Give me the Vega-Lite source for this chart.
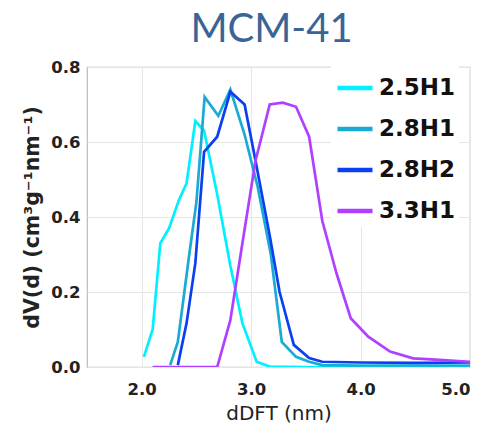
{
  "$schema": "https://vega.github.io/schema/vega-lite/v6.json",
  "autosize": "none",
  "width": 383,
  "height": 300,
  "padding": {"left": 87, "top": 67, "right": 19, "bottom": 71},
  "background": "white",
  "title": {"text": "MCM-41", "font": "Lato", "fontSize": 40, "fontWeight": "normal", "color": "#3b6496", "anchor": "middle", "offset": 9, "dx": -7},
  "data": {"values": [
    {"s": "2.5H1", "d": 2.02, "v": 0.027},
    {"s": "2.5H1", "d": 2.10, "v": 0.10},
    {"s": "2.5H1", "d": 2.17, "v": 0.33},
    {"s": "2.5H1", "d": 2.25, "v": 0.37},
    {"s": "2.5H1", "d": 2.34, "v": 0.445},
    {"s": "2.5H1", "d": 2.41, "v": 0.49},
    {"s": "2.5H1", "d": 2.49, "v": 0.656},
    {"s": "2.5H1", "d": 2.57, "v": 0.63},
    {"s": "2.5H1", "d": 2.69, "v": 0.46},
    {"s": "2.5H1", "d": 2.81, "v": 0.27},
    {"s": "2.5H1", "d": 2.92, "v": 0.117},
    {"s": "2.5H1", "d": 3.05, "v": 0.014},
    {"s": "2.5H1", "d": 3.17, "v": 0.001},
    {"s": "2.5H1", "d": 3.5, "v": 0.0},
    {"s": "2.5H1", "d": 4.0, "v": 0.0},
    {"s": "2.5H1", "d": 4.5, "v": 0.0},
    {"s": "2.5H1", "d": 5.0, "v": 0.0},
    {"s": "2.8H1", "d": 2.26, "v": 0.005},
    {"s": "2.8H1", "d": 2.33, "v": 0.067},
    {"s": "2.8H1", "d": 2.43, "v": 0.29},
    {"s": "2.8H1", "d": 2.50, "v": 0.44},
    {"s": "2.8H1", "d": 2.575, "v": 0.72},
    {"s": "2.8H1", "d": 2.70, "v": 0.67},
    {"s": "2.8H1", "d": 2.81, "v": 0.74},
    {"s": "2.8H1", "d": 2.94, "v": 0.62},
    {"s": "2.8H1", "d": 3.06, "v": 0.48},
    {"s": "2.8H1", "d": 3.18, "v": 0.30},
    {"s": "2.8H1", "d": 3.28, "v": 0.067},
    {"s": "2.8H1", "d": 3.41, "v": 0.027},
    {"s": "2.8H1", "d": 3.53, "v": 0.014},
    {"s": "2.8H1", "d": 3.65, "v": 0.005},
    {"s": "2.8H1", "d": 4.0, "v": 0.004},
    {"s": "2.8H1", "d": 4.5, "v": 0.004},
    {"s": "2.8H1", "d": 5.0, "v": 0.004},
    {"s": "2.8H2", "d": 2.33, "v": 0.005},
    {"s": "2.8H2", "d": 2.41, "v": 0.117},
    {"s": "2.8H2", "d": 2.49, "v": 0.277},
    {"s": "2.8H2", "d": 2.57, "v": 0.574},
    {"s": "2.8H2", "d": 2.69, "v": 0.614},
    {"s": "2.8H2", "d": 2.81, "v": 0.734},
    {"s": "2.8H2", "d": 2.94, "v": 0.70},
    {"s": "2.8H2", "d": 3.04, "v": 0.55},
    {"s": "2.8H2", "d": 3.17, "v": 0.35},
    {"s": "2.8H2", "d": 3.26, "v": 0.20},
    {"s": "2.8H2", "d": 3.39, "v": 0.059},
    {"s": "2.8H2", "d": 3.53, "v": 0.024},
    {"s": "2.8H2", "d": 3.65, "v": 0.014},
    {"s": "2.8H2", "d": 4.0, "v": 0.012},
    {"s": "2.8H2", "d": 4.5, "v": 0.011},
    {"s": "2.8H2", "d": 5.0, "v": 0.012},
    {"s": "3.3H1", "d": 2.10, "v": 0.0},
    {"s": "3.3H1", "d": 2.40, "v": 0.0},
    {"s": "3.3H1", "d": 2.69, "v": 0.0},
    {"s": "3.3H1", "d": 2.81, "v": 0.125},
    {"s": "3.3H1", "d": 2.92, "v": 0.33},
    {"s": "3.3H1", "d": 3.04, "v": 0.55},
    {"s": "3.3H1", "d": 3.17, "v": 0.70},
    {"s": "3.3H1", "d": 3.29, "v": 0.705},
    {"s": "3.3H1", "d": 3.41, "v": 0.694},
    {"s": "3.3H1", "d": 3.53, "v": 0.614},
    {"s": "3.3H1", "d": 3.65, "v": 0.39},
    {"s": "3.3H1", "d": 3.78, "v": 0.25},
    {"s": "3.3H1", "d": 3.91, "v": 0.13},
    {"s": "3.3H1", "d": 4.07, "v": 0.081},
    {"s": "3.3H1", "d": 4.27, "v": 0.041},
    {"s": "3.3H1", "d": 4.48, "v": 0.023},
    {"s": "3.3H1", "d": 4.72, "v": 0.019},
    {"s": "3.3H1", "d": 5.0, "v": 0.014}
  ]},
  "mark": {"type": "line", "strokeWidth": 2.7, "clip": true},
  "encoding": {
    "x": {"field": "d", "type": "quantitative", "scale": {"domain": [1.5, 5.0], "nice": false, "zero": false},
      "axis": {"values": [2, 3, 4, 5], "format": ".1f", "title": "dDFT (nm)", "grid": true, "ticks": false, "domain": false,
        "labelFont": "DejaVu Sans", "labelFontWeight": "bold", "labelFontSize": 16.5, "labelColor": "#222", "labelPadding": 14,
        "titleFont": "DejaVu Sans", "titleFontSize": 20, "titleFontWeight": "normal", "titleColor": "#222", "titlePadding": 6}},
    "y": {"field": "v", "type": "quantitative", "scale": {"domain": [0, 0.8], "nice": false},
      "axis": {"values": [0, 0.2, 0.4, 0.6, 0.8], "format": ".1f", "title": "dV(d) (cm³g⁻¹nm⁻¹)", "grid": true, "ticks": false, "domain": false,
        "labelFont": "DejaVu Sans", "labelFontWeight": "bold", "labelFontSize": 16.5, "labelColor": "#222", "labelPadding": 7,
        "titleFont": "DejaVu Sans", "titleFontSize": 20.5, "titleFontWeight": "bold", "titleColor": "#222", "titlePadding": 8}},
    "color": {"field": "s", "type": "nominal",
      "scale": {"domain": ["2.5H1", "2.8H1", "2.8H2", "3.3H1"], "range": ["#00f0ff", "#1aaad4", "#0a40f0", "#b040ff"]},
      "legend": {"title": null, "orient": "none", "legendX": 244, "legendY": -3, "symbolType": "stroke", "symbolSize": 1225, "symbolStrokeWidth": 4.5,
        "labelFont": "DejaVu Sans", "labelFontWeight": "bold", "labelFontSize": 23, "labelColor": "#111", "labelOffset": 4, "rowPadding": 9,
        "fillColor": "white", "padding": 4}}
  },
  "config": {
    "view": {"stroke": "#bbb", "strokeWidth": 1.2},
    "axis": {"gridColor": "#e6e6e6", "gridWidth": 1}
  }
}
